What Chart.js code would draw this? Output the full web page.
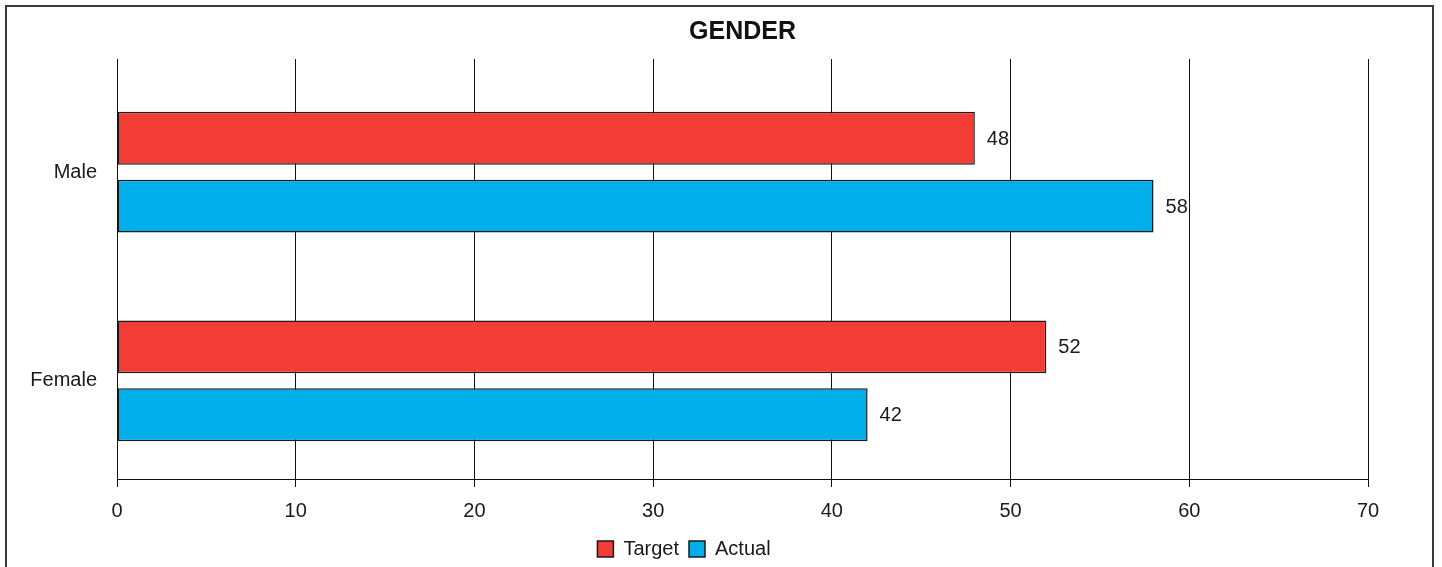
<!DOCTYPE html>
<html>
<head>
<meta charset="utf-8">
<title>Gender</title>
<script src="https://cdn.jsdelivr.net/npm/chart.js@4.4.1/dist/chart.umd.min.js"></script>
<style>
  html, body { margin: 0; padding: 0; background: #fff; }
  #wrap { width: 1442px; height: 567px; }
</style>
</head>
<body>
<div id="wrap"><canvas id="genderChart"></canvas></div>
<script>
// Target vs actual split by gender
const categories = ['Male', 'Female'];
const targetValues = [48, 52];
const actualValues = [58, 42];
const xTicks = [0, 10, 20, 30, 40, 50, 60, 70];

Chart.defaults.font.family = '"Liberation Sans", Arial, Helvetica, sans-serif';
Chart.defaults.color = '#1a1a1a';

// frame around the whole chart
const framePlugin = {
  id: 'frame',
  beforeDraw(chart) {
    const c = chart.ctx;
    c.save();
    c.strokeStyle = '#3a3a3a';
    c.lineWidth = 2;
    c.strokeRect(6, 6, 1427, 620);
    c.restore();
  }
};

// value printed at the end of each bar
const valueLabels = {
  id: 'valueLabels',
  afterDatasetsDraw(chart) {
    const c = chart.ctx;
    c.save();
    c.font = '20px "Liberation Sans", Arial, sans-serif';
    c.fillStyle = '#1a1a1a';
    c.textAlign = 'left';
    c.textBaseline = 'middle';
    chart.data.datasets.forEach((ds, di) => {
      chart.getDatasetMeta(di).data.forEach((bar, i) => {
        c.fillText(String(ds.data[i].x), bar.x + 12, bar.y + 1);
      });
    });
    c.restore();
  }
};

const barStyle = {
  borderColor: '#1a1a1a',
  borderWidth: 1.5,
  borderSkipped: false,
  categoryPercentage: 0.651,
  barPercentage: 0.779
};

new Chart(document.getElementById('genderChart'), {
  type: 'bar',
  data: {
    datasets: [{
      label: 'Target',
      data: targetValues.map((v, i) => ({ x: v, y: i })),
      backgroundColor: '#f23d37',
      ...barStyle
    }, {
      label: 'Actual',
      data: actualValues.map((v, i) => ({ x: v, y: i })),
      backgroundColor: '#00aeea',
      ...barStyle
    }]
  },
  options: {
    indexAxis: 'y',
    responsive: true,
    maintainAspectRatio: false,
    animation: false,
    layout: { padding: { left: 0, right: 74, top: 8, bottom: -2 } },
    scales: {
      x: {
        type: 'linear',
        min: 0,
        max: 70,
        afterBuildTicks: (s) => { s.ticks = xTicks.map(v => ({ value: v })); },
        afterFit: (s) => { s.height = 50; },
        ticks: { font: { size: 20 }, padding: 12, color: '#1a1a1a' },
        grid: { color: '#111', lineWidth: 1, tickLength: 8, drawTicks: true },
        border: { color: '#111', width: 1 }
      },
      y: {
        type: 'linear',
        reverse: true,
        offset: false,
        bounds: 'data',
        min: -0.543,
        max: 1.471,
        afterBuildTicks: (s) => { s.ticks = categories.map((c, i) => ({ value: i })); },
        afterFit: (s) => { s.width = 117; },
        ticks: {
          font: { size: 20 },
          padding: 20,
          color: '#1a1a1a',
          callback: (v) => categories[v]
        },
        grid: { display: false, drawTicks: false, offset: false },
        border: { display: false }
      }
    },
    plugins: {
      title: {
        display: true,
        text: 'GENDER',
        fullSize: false,
        color: '#111',
        font: { size: 25, weight: 'bold' },
        padding: { top: 9, bottom: 12 }
      },
      legend: {
        position: 'bottom',
        labels: {
          boxWidth: 16,
          boxHeight: 16,
          padding: 10,
          color: '#1a1a1a',
          font: { size: 20 }
        }
      },
      tooltip: { enabled: false }
    }
  },
  plugins: [framePlugin, valueLabels]
});
</script>
</body>
</html>
